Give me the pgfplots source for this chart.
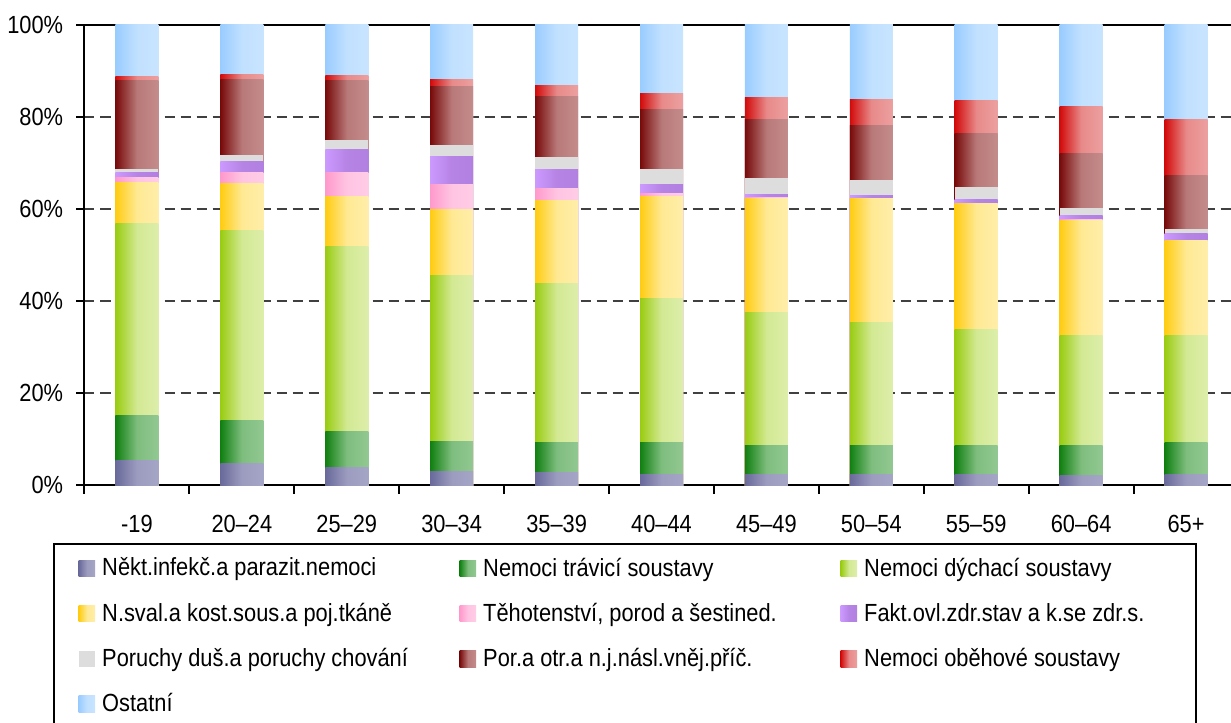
\documentclass[border=0pt]{standalone}
\usepackage{fontspec}
\setmainfont{Liberation Sans}[FakeStretch=0.88]
\usepackage{pgfplots}
\usepackage{pgfplotstable}
\pgfplotsset{compat=1.18}

% share of each cause in each age group (%)
\pgfplotstableread{
x inf  dig  res  mus   pre  fac  men  inj   cir   oth
0 5.3  9.8  41.7 8.9   1.2  1.0  0.9  19.2  0.7   11.3
1 4.65 9.4  41.3 10.2  2.4  2.4  1.3  16.6  0.9   10.85
2 3.8  7.8  40.2 10.9  5.2  5.0  2.0  13.1  1.1   10.9
3 2.9  6.55 36.2 14.2  5.45 6.1  2.6  12.7  1.5   11.8
4 2.7  6.5  34.5 18.1  2.6  4.2  2.8  13.1  2.4   13.1
5 2.25 7.0  31.4 22.0  0.65 2.0  3.3  13.1  3.5   14.8
6 2.25 6.35 28.8 24.9  0.1  0.85 3.5  12.7  4.8   15.75
7 2.25 6.35 26.8 26.85 0.05 0.65 3.3  12.0  5.6   16.15
8 2.25 6.35 25.3 27.3  0.05 0.8  2.65 11.75 7.2   16.35
9 2.0  6.6  24.0 24.85 0.2  0.85 1.8  11.75 10.25 17.7
10 2.25 6.95 23.2 20.7 0.05 1.5  0.9  11.8  12.2  20.45
}\data

% left (dark) and right (light) colours of the bar gradients
\definecolor{infL}{HTML}{69699B}\definecolor{infR}{HTML}{A5A5C6}
\definecolor{digL}{HTML}{108010}\definecolor{digR}{HTML}{92C892}
\definecolor{resL}{HTML}{99CC11}\definecolor{resR}{HTML}{DDEEAA}
\definecolor{musL}{HTML}{FFCC11}\definecolor{musR}{HTML}{FFEEAA}
\definecolor{preL}{HTML}{FF99CC}\definecolor{preR}{HTML}{FFCCE6}
\definecolor{facL}{HTML}{CC99FF}\definecolor{facR}{HTML}{B280E0}
\definecolor{menC}{HTML}{DDDDDD}
\definecolor{injL}{HTML}{780A0A}\definecolor{injR}{HTML}{C48C8C}
\definecolor{cirL}{HTML}{D20A0A}\definecolor{cirR}{HTML}{ECA0A0}
\definecolor{othL}{HTML}{99CCFF}\definecolor{othR}{HTML}{C8E4FF}

\pgfplotsset{
  gbar/.style n args={2}{draw=none, left color=#1, right color=#2, middle color=#2!85!#1},
}
% running totals, bottom to top
\def\sA{\thisrow{inf}}
\def\sB{\sA+\thisrow{dig}}
\def\sC{\sB+\thisrow{res}}
\def\sD{\sC+\thisrow{mus}}
\def\sE{\sD+\thisrow{pre}}
\def\sF{\sE+\thisrow{fac}}
\def\sG{\sF+\thisrow{men}}
\def\sH{\sG+\thisrow{inj}}
\def\sI{\sH+\thisrow{cir}}
\def\sJ{\sI+\thisrow{oth}}
% one bar = one path, so that each bar gets its own gradient;
% taller totals are drawn first and covered by the lower ones
\newcommand{\seg}[3]{%
  \addplot[#2, forget plot, bar shift=0pt, restrict x to domain=#1:#1]
    table[x=x, y expr={#3}] {\data};}

\newcommand{\lfont}{\fontsize{12.4pt}{14pt}\selectfont}
\newcommand{\ca}[1]{\makebox[178.7pt][l]{#1}}
\newcommand{\cb}[1]{\makebox[153.6pt][l]{#1}}

\begin{document}
\begin{tikzpicture}
\begin{axis}[
  at={(0,0)}, anchor=south west,
  scale only axis, width=577pt, height=230pt,
  ybar, bar width=21.5pt,
  xmin=-0.5, xmax=10.5, ymin=0, ymax=100,
  axis line style={black, line width=1pt},
  xtick={0,...,10},
  xticklabels={-19,20–24,25–29,30–34,35–39,40–44,45–49,50–54,55–59,60–64,65+},
  minor xtick={-0.5,0.5,...,10.5},
  xtick pos=left, ytick pos=left,
  tick align=outside,
  major tick length=4pt, minor tick length=4.5pt,
  tick style={black, line width=1pt},
  major x tick style={draw=none},
  ytick={0,20,...,100},
  yticklabels={0\%,20\%,40\%,60\%,80\%,100\%},
  tick label style={font=\lfont},
  yticklabel style={inner sep=0pt, xshift=-6.5pt},
  xticklabel style={inner sep=0pt, yshift=-11pt},
  ymajorgrids,
  grid style={black!75, line width=0.8pt, dash pattern=on 5pt off 3pt},
  legend columns=3,
  legend cell align=left,
  legend image code/.code={\path[#1,draw=none] (0pt,-4.15pt) rectangle (8.3pt,4.15pt);},
  legend style={at={(-0.0276,-0.1265)}, anchor=north west,
    draw=black, line width=1pt, inner xsep=12.5pt, inner ysep=6.8pt,
    row sep=12pt, font=\lfont,
    nodes={inner sep=0pt},
    /tikz/every odd column/.append style={column sep=3.5pt}},
]
\pgfplotsinvokeforeach{0,...,10}{
  \seg{#1}{gbar={othL}{othR}}{\sJ}
  \seg{#1}{gbar={cirL}{cirR}}{\sI}
  \seg{#1}{gbar={injL}{injR}}{\sH}
  \seg{#1}{draw=none, fill=menC}{\sG}
  \seg{#1}{gbar={facL}{facR}}{\sF}
  \seg{#1}{gbar={preL}{preR}}{\sE}
  \seg{#1}{gbar={musL}{musR}}{\sD}
  \seg{#1}{gbar={resL}{resR}}{\sC}
  \seg{#1}{gbar={digL}{digR}}{\sB}
  \seg{#1}{gbar={infL}{infR}}{\sA}
}
\addlegendimage{gbar={infL}{infR}}
\addlegendentry{\ca{Někt.infekč.a parazit.nemoci}}
\addlegendimage{gbar={digL}{digR}}
\addlegendentry{\ca{Nemoci trávicí soustavy}}
\addlegendimage{gbar={resL}{resR}}
\addlegendentry{\cb{Nemoci dýchací soustavy}}
\addlegendimage{gbar={musL}{musR}}
\addlegendentry{\ca{N.sval.a kost.sous.a poj.tkáně}}
\addlegendimage{gbar={preL}{preR}}
\addlegendentry{\ca{Těhotenství, porod a šestined.}}
\addlegendimage{gbar={facL}{facR}}
\addlegendentry{\cb{Fakt.ovl.zdr.stav a k.se zdr.s.}}
\addlegendimage{draw=none, fill=menC}
\addlegendentry{\ca{Poruchy duš.a poruchy chování}}
\addlegendimage{gbar={injL}{injR}}
\addlegendentry{\ca{Por.a otr.a n.j.násl.vněj.příč.}}
\addlegendimage{gbar={cirL}{cirR}}
\addlegendentry{\cb{Nemoci oběhové soustavy}}
\addlegendimage{gbar={othL}{othR}}
\addlegendentry{\ca{Ostatní}}
\end{axis}
\pgfresetboundingbox
\path (-42.25pt,-118.75pt) rectangle (573.25pt,242.5pt);
\end{tikzpicture}
\end{document}
